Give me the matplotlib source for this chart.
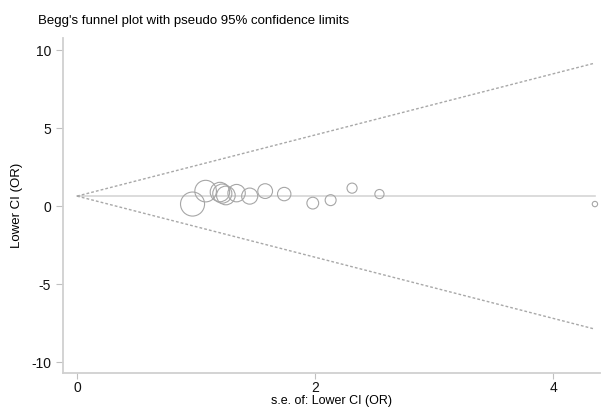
import matplotlib.pyplot as plt
import numpy as np

plt.rcParams['font.family'] = ['Liberation Sans', 'DejaVu Sans']
plt.rcParams['axes.unicode_minus'] = False

# study estimates
se = [0.97, 1.08, 1.22, 1.25, 1.20, 1.34, 1.45, 1.58, 1.74, 1.98, 2.13, 2.31, 2.54, 4.35]
lower_ci = [0.13, 0.96, 0.80, 0.68, 0.90, 0.83, 0.64, 0.96, 0.77, 0.19, 0.38, 1.15, 0.77, 0.13]
theta = 0.64

xticks = [0, 2, 4]
yticks = [-10, -5, 0, 5, 10]

se = np.array(se)
y = np.array(lower_ci)

fig = plt.figure(figsize=(6.03, 4.07), dpi=100)
ax = fig.add_axes([0.1045, 0.0835, 0.89, 0.823])

se_max = se.max()
ax.plot([0, se_max], [theta, theta], color='#d6d6d6', lw=1.2, zorder=1)
ax.plot([0, se_max], [theta, theta + 1.96 * se_max], color='#a8a8a8', lw=1.0,
        ls=(0, (2, 1.5)), zorder=1)
ax.plot([0, se_max], [theta, theta - 1.96 * se_max], color='#a8a8a8', lw=1.0,
        ls=(0, (2, 1.5)), zorder=1)

ax.scatter(se, y, s=282 / se**2, facecolors='none', edgecolors='#a6a6a6',
           linewidths=0.8, zorder=2)

ax.set_xlim(-0.118, 4.39)
ax.set_ylim(-10.7, 10.77)
ax.set_xticks(xticks)
ax.set_yticks(yticks)

for s in ['top', 'right']:
    ax.spines[s].set_visible(False)
for s in ['left', 'bottom']:
    ax.spines[s].set_color('#d0d0d0')
    ax.spines[s].set_linewidth(1.3)
ax.tick_params(colors='#c0c0c0', labelcolor='#111111', labelsize=10, length=5, width=0.8)
ax.tick_params(axis='x', length=4, pad=1.5)

ax.set_xlabel('s.e. of: Lower CI (OR)', fontsize=9, labelpad=0)
ax.set_ylabel('Lower CI (OR)', fontsize=9.5, labelpad=6)
fig.text(0.063, 0.948, "Begg's funnel plot with pseudo 95% confidence limits",
         fontsize=9.5, ha='left', va='center')

fig.savefig('out.png', dpi=100)
